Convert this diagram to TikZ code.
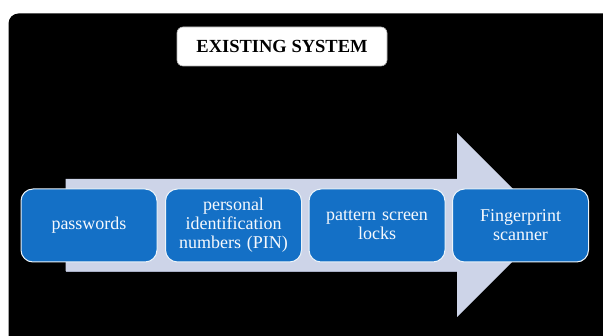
\documentclass[tikz,border=0pt]{standalone}
\usepackage{fontspec}
\setmainfont{Liberation Serif}
\definecolor{stepblue}{HTML}{1470C6}
\definecolor{arrowfill}{HTML}{CDD4E8}
\definecolor{arrowedge}{HTML}{A9B0C6}
\tikzset{
  stepbox/.style={draw=white!92!stepblue, line width=1pt, fill=stepblue,
    rounded corners=12pt, minimum width=136pt, minimum height=73pt,
    inner sep=2pt, text width=128pt, align=center, text=white!96!stepblue,
    font=\fontsize{18pt}{19pt}\selectfont},
  titlebox/.style={draw=black!30, line width=0.6pt, fill=white,
    rounded corners=6pt, minimum width=210pt, minimum height=39pt,
    inner sep=0pt, font=\fontsize{18.5pt}{20pt}\selectfont\bfseries}
}
\begin{document}
\begin{tikzpicture}[x=1pt, y=-1pt]
  \useasboundingbox (0,0) rectangle (603,336);
  \fill[white] (0,0) rectangle (603,336);
  % dark panel behind the diagram
  \begin{scope}
    \clip (0,0) rectangle (603,336);
    \fill[black, rounded corners=10pt] (8.5,13.5) rectangle (615,345);
  \end{scope}
  % heading
  \node[titlebox] (title) at (282,46.5) {EXISTING SYSTEM};
  % broad arrow carrying the steps
  \fill[arrowfill] (65.5,179) -- (457,179) -- (457,133) -- (549,225)
    -- (457,317) -- (457,271) -- (65.5,271) -- cycle;
  \draw[arrowedge, line width=0.5pt] (65.5,271) -- (457,271);
  % steps
  \node[stepbox] (pw)  at (89,225.5)  {passwords};
  \node[stepbox] (pin) at (233.5,225.5) {personal\\identification\\numbers (PIN)};
  \node[stepbox] (pat) at (377,225.5) {pattern screen\\locks};
  \node[stepbox] (fp)  at (520.5,225.5) {Fingerprint\\scanner};
\end{tikzpicture}
\end{document}
